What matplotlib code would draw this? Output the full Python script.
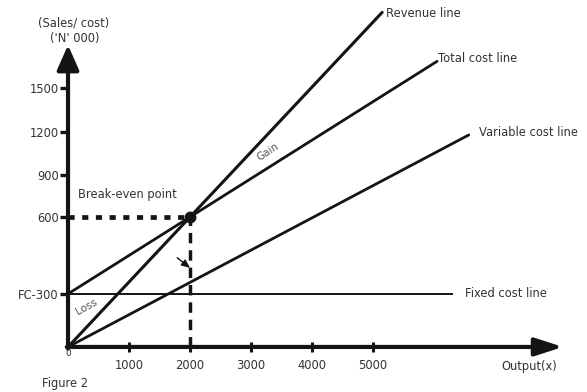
import matplotlib
matplotlib.use("Agg")
import matplotlib.pyplot as plt
import numpy as np

plt.rcParams['font.family'] = ['DejaVu Sans']

# ---------------- data (schematic break-even chart) ----------------
output_ticks = [1000, 2000, 3000, 4000, 5000]
output_tick_labels = ['1000', '2000', '3000', '4000', '5000']
# the drawn cost axis is not to scale: positions of the labelled levels
cost_tick_pos = [245, 600, 794, 992, 1195]
cost_tick_labels = ['FC-300', '600', '900', '1200', '1500']

break_even_output = 2000
break_even_value = 600
fixed_cost_level = 245          # drawn level of FC = 300
price_per_unit = 0.30           # revenue line slope
total_cost_slope = (break_even_value - fixed_cost_level) / break_even_output
variable_cost_slope = 0.149

revenue_end = 5150
total_cost_end = 6050
variable_cost_end = 6570
fixed_cost_end = 6300
x_axis_end = 8113
y_axis_end = 1394

# ---------------- figure ----------------
LC = '#141414'
TC = '#333333'
fig = plt.figure(figsize=(5.87, 3.92), dpi=100)
ax = fig.add_axes([0, 0, 1, 1])
ax.set_xlim(-1115, 8508)
ax.set_ylim(-208, 1602)
for s in ax.spines.values():
    s.set_visible(False)
ax.spines['left'].set_position(('data', 0))
ax.spines['bottom'].set_position(('data', 0))

# lines
x = np.array([0, revenue_end])
ax.plot(x, price_per_unit * x, color=LC, lw=2.2, solid_capstyle='round')
x = np.array([0, total_cost_end])
ax.plot(x, fixed_cost_level + total_cost_slope * x, color=LC, lw=2.0, solid_capstyle='round')
x = np.array([0, variable_cost_end])
ax.plot(x, variable_cost_slope * x, color=LC, lw=2.0, solid_capstyle='round')
ax.plot([0, fixed_cost_end], [fixed_cost_level, fixed_cost_level], color=LC, lw=1.4)

# break-even guides
ax.plot([0, break_even_output], [break_even_value, break_even_value], color=LC,
        lw=3.4, linestyle=(0, (1.3, 1.6)))
ax.plot([break_even_output, break_even_output], [0, break_even_value], color=LC,
        lw=2.5, linestyle=(0, (3.0, 2.0)))
ax.plot([break_even_output], [break_even_value], 'o', color=LC, ms=7.5)

# axes with arrows
ax.annotate('', xy=(0, y_axis_end), xytext=(0, -8),
            arrowprops=dict(arrowstyle='-|>,head_length=0.95,head_width=0.42',
                            lw=3.0, color=LC, mutation_scale=16, shrinkA=0, shrinkB=0))
ax.annotate('', xy=(x_axis_end, 0), xytext=(-20, 0),
            arrowprops=dict(arrowstyle='-|>,head_length=1.05,head_width=0.34',
                            lw=3.0, color=LC, mutation_scale=16, shrinkA=0, shrinkB=0))

# ticks
ax.set_xticks(output_ticks)
ax.set_xticklabels(output_tick_labels)
ax.set_yticks(cost_tick_pos)
ax.set_yticklabels(cost_tick_labels)
ax.tick_params(axis='x', direction='inout', length=7, width=2.2, color=LC,
               pad=5, labelsize=8.3, labelcolor=TC)
ax.tick_params(axis='y', direction='out', length=6, width=2.4, color=LC,
               pad=0.5, labelsize=8.3, labelcolor=TC)

# texts
fs = 8.3
def lab(txt, xy, off, **kw):
    ax.annotate(txt, xy=xy, xytext=off, textcoords='offset points',
                fontsize=kw.pop('fontsize', fs), color=kw.pop('color', TC),
                va=kw.pop('va', 'center'), ha=kw.pop('ha', 'left'), **kw)

lab('Revenue line', (revenue_end, price_per_unit * revenue_end), (3, -1))
lab('Total cost line', (total_cost_end, fixed_cost_level + total_cost_slope * total_cost_end), (1, 2))
lab('Variable cost line', (variable_cost_end, variable_cost_slope * variable_cost_end), (7, 2))
lab('Fixed cost line', (fixed_cost_end, fixed_cost_level), (9, 0))
lab('Break-even point', (0, break_even_value), (7, 16))
lab('Gain', (3280, 900), (0, 0), ha='center', rotation=33, color='#555555', fontsize=7.5)
lab('Loss', (300, 185), (0, 0), ha='center', rotation=29, color='#555555', fontsize=7.5)
lab('0', (0, 0), (0, -5), ha='center', fontsize=6.5)
lab('Output(x)', (x_axis_end, 0), (-4, -14), ha='right')
lab('(Sales/ cost)', (0, y_axis_end), (4, 16), ha='center')
lab('(\'N\' 000)', (0, y_axis_end), (5, 5), ha='center')
lab('Figure 2', (0, 0), (-19, -26))

# pointer arrow to the break-even output line
ax.annotate('', xy=(break_even_output, 365), xytext=(1790, 412),
            arrowprops=dict(arrowstyle='-|>,head_length=0.5,head_width=0.22',
                            lw=1.0, color=LC, mutation_scale=10, shrinkA=0, shrinkB=0))

fig.savefig('out.png', dpi=100, facecolor='white')
